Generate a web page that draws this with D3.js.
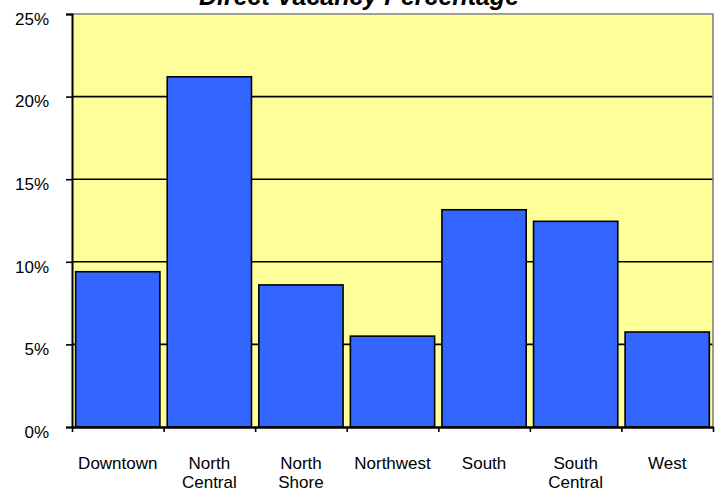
<!DOCTYPE html>
<html>
<head>
<meta charset="utf-8">
<script src="https://cdn.jsdelivr.net/npm/d3@7"></script>
<style>
  body { margin: 0; background: #fff; }
  text { font-family: "Liberation Sans", Arial, sans-serif; fill: #000; }
</style>
</head>
<body>
<div class="chart"></div>
<script>
// Direct vacancy by submarket
var categories = ["Downtown", "North Central", "North Shore", "Northwest", "South", "South Central", "West"];
var labelLines = [["Downtown"], ["North", "Central"], ["North", "Shore"], ["Northwest"], ["South"], ["South", "Central"], ["West"]];
var vacancy = [9.4, 21.2, 8.6, 5.5, 13.15, 12.45, 5.75];
var yTicks = [0, 5, 10, 15, 20, 25];

var svgWidth = 718;
var svgHeight = 491;

var margin = { top: 14, right: 5, bottom: 64, left: 72 };
var width = svgWidth - margin.left - margin.right;
var height = svgHeight - margin.top - margin.bottom;

var svg = d3.select(".chart")
  .append("svg")
  .attr("width", svgWidth)
  .attr("height", svgHeight);

var chartGroup = svg.append("g")
  .attr("transform", `translate(${margin.left}, ${margin.top})`);

var xScale = d3.scaleBand()
  .domain(categories)
  .range([0, width])
  .paddingInner(0.08)
  .paddingOuter(0.04);

// category boundaries for the tick marks
var xEdges = d3.scaleLinear().domain([0, categories.length]).range([0, width]);

var yScale = d3.scaleLinear()
  .domain([0, 25])
  .range([height, 0]);

// plot background
chartGroup.append("rect")
  .attr("width", width)
  .attr("height", height)
  .attr("fill", "#ffff99");

// gridlines
chartGroup.selectAll(".grid")
  .data(yTicks.filter(d => d > 0 && d < 25))
  .enter()
  .append("line")
  .attr("x1", 0)
  .attr("x2", width)
  .attr("y1", d => yScale(d))
  .attr("y2", d => yScale(d))
  .attr("stroke", "#000")
  .attr("stroke-width", 1.6);

// top and right border
chartGroup.append("path")
  .attr("d", `M0,0H${width}V${height}`)
  .attr("fill", "none")
  .attr("stroke", "#808080")
  .attr("stroke-width", 1.6);

// bars
chartGroup.selectAll(".bar")
  .data(vacancy)
  .enter()
  .append("rect")
  .attr("x", (d, i) => xScale(categories[i]))
  .attr("width", xScale.bandwidth())
  .attr("y", d => yScale(d))
  .attr("height", d => height - yScale(d))
  .attr("fill", "#3366ff")
  .attr("stroke", "#000")
  .attr("stroke-width", 1.6);

// y axis
var leftAxis = d3.axisLeft(yScale)
  .tickValues(yTicks)
  .tickSize(6)
  .tickPadding(17)
  .tickFormat(d => d + "%");

var yAxis = chartGroup.append("g").call(leftAxis);
yAxis.select(".domain").attr("stroke", "#000").attr("stroke-width", 2);
yAxis.selectAll(".tick line").attr("stroke", "#000").attr("stroke-width", 1.6);
yAxis.selectAll(".tick text")
  .attr("font-size", "17px")
  .attr("dy", "0.6em")
  .attr("fill", "#000");

// x axis
var bottomAxis = d3.axisBottom(xEdges)
  .tickValues(d3.range(0, categories.length + 1))
  .tickSize(5)
  .tickSizeOuter(0)
  .tickFormat("");

var xAxis = chartGroup.append("g")
  .attr("transform", `translate(0, ${height})`)
  .call(bottomAxis);
xAxis.select(".domain").attr("stroke", "#000").attr("stroke-width", 2.5);
xAxis.selectAll(".tick line").attr("stroke", "#000").attr("stroke-width", 1.6);

// category labels
var labels = chartGroup.selectAll(".xlabel")
  .data(labelLines)
  .enter()
  .append("text")
  .attr("text-anchor", "middle")
  .attr("font-size", "17px")
  .attr("transform", (d, i) => `translate(${xScale(categories[i]) + xScale.bandwidth() / 2}, ${height + 42})`);

labels.selectAll("tspan")
  .data(d => d)
  .enter()
  .append("tspan")
  .attr("x", 0)
  .attr("y", (d, i) => i * 19)
  .text(d => d);

// title (partly cut off at the top)
svg.append("text")
  .attr("x", svgWidth / 2)
  .attr("y", 5)
  .attr("text-anchor", "middle")
  .attr("font-size", "25px")
  .attr("font-weight", "bold")
  .attr("font-style", "italic")
  .text("Direct Vacancy Percentage");
</script>
</body>
</html>
